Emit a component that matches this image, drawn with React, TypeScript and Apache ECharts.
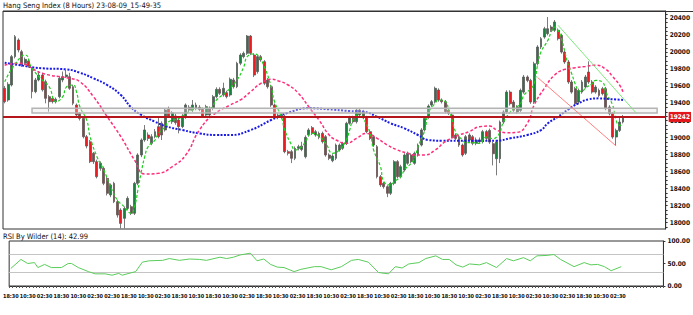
import React, { useEffect, useRef } from 'react';
import * as echarts from 'echarts';

const TITLE = 'Hang Seng Index (8 Hours) 23-08-09_15-49-35';
const RSI_TITLE = 'RSI By Wilder (14): 42.99';
const SLOTS = 194;

const xLabels = [
  '18:30', '10:30', '02:30', '18:30', '10:30', '02:30', '02:30', '18:30', '10:30', '02:30',
  '18:30', '10:30', '18:30', '10:30', '02:30', '18:30', '10:30', '02:30', '18:30', '10:30',
  '02:30', '18:30', '10:30', '02:30', '18:30', '10:30', '18:30', '10:30', '02:30', '18:30',
  '10:30', '02:30', '10:30', '02:30', '18:30', '10:30', '02:30',
];

// [open, close, low, high]
const candles: number[][] = [
  [19578, 19421, 19402, 19605], [19441, 19625, 19420, 19650], [19617, 19950, 19600, 19970], [19950, 20185, 19930, 20204],
  [20145, 20028, 20000, 20165], [20008, 19852, 19830, 20030], [19872, 19918, 19850, 19940], [19900, 19840, 19820, 19925],
  [19813, 19539, 19460, 19830], [19539, 19676, 19520, 19700], [19676, 19734, 19660, 19780], [19734, 19560, 19540, 19760],
  [19656, 19460, 19402, 19680], [19480, 19421, 19304, 19500], [19460, 19421, 19400, 19480], [19421, 19450, 19400, 19470],
  [19480, 19695, 19460, 19720], [19676, 19715, 19650, 19775], [19715, 19734, 19700, 19793], [19715, 19578, 19560, 19760],
  [19597, 19402, 19380, 19620], [19382, 19265, 19240, 19400], [19285, 19225, 19200, 19300], [19225, 19010, 18990, 19245],
  [19010, 18900, 18873, 19030], [18950, 18717, 18700, 18971], [18815, 18717, 18690, 18830], [18717, 18540, 18520, 18740],
  [18638, 18697, 18610, 18720], [18638, 18462, 18440, 18660], [18521, 18345, 18320, 18540], [18326, 18443, 18300, 18460],
  [18462, 18247, 18230, 18480], [18247, 18090, 18060, 18270], [18149, 17992, 17934, 18170], [18051, 18168, 17934, 18190],
  [18168, 18286, 18150, 18310], [18188, 18110, 18090, 18210], [18110, 18462, 18090, 18480], [18462, 18795, 18440, 18815],
  [18795, 18971, 18770, 18990], [18971, 19089, 18950, 19147], [19030, 18990, 18960, 19060], [18932, 19010, 18910, 19040],
  [19010, 19069, 18990, 19100], [19128, 19010, 18990, 19245], [19167, 19030, 18971, 19190], [19089, 19323, 19070, 19345],
  [19331, 19253, 19230, 19363], [19186, 19290, 19160, 19310], [19253, 19175, 19150, 19280], [19206, 19128, 19049, 19230],
  [19128, 19253, 19110, 19275], [19237, 19382, 19220, 19400], [19355, 19323, 19300, 19380], [19323, 19382, 19300, 19441],
  [19343, 19382, 19320, 19410], [19355, 19330, 19310, 19380], [19331, 19253, 19230, 19350], [19265, 19363, 19245, 19385],
  [19343, 19265, 19240, 19365], [19343, 19480, 19320, 19500], [19480, 19566, 19460, 19590], [19566, 19519, 19500, 19590],
  [19500, 19578, 19480, 19644], [19527, 19480, 19460, 19550], [19500, 19684, 19480, 19705], [19676, 19597, 19575, 19700],
  [19597, 19872, 19580, 19890], [19872, 19969, 19850, 19990], [19950, 19989, 19930, 20010], [19989, 20192, 19970, 20204],
  [20192, 19989, 19970, 20204], [19969, 19734, 19710, 19990], [19774, 19950, 19750, 19970], [19950, 19911, 19890, 19970],
  [19891, 19637, 19615, 19910], [19676, 19597, 19575, 19700], [19597, 19382, 19360, 19620], [19382, 19237, 19215, 19400],
  [19265, 19237, 19215, 19285], [19237, 19265, 19215, 19285], [19250, 18834, 18815, 19265], [18834, 18815, 18790, 18855],
  [18834, 18756, 18700, 18855], [18756, 18873, 18735, 18895], [18873, 18893, 18850, 18915], [18860, 18900, 18840, 18950],
  [18775, 19002, 18755, 19025], [19030, 19089, 19010, 19110], [19116, 19049, 19030, 19135], [19030, 19069, 19010, 19090],
  [19049, 19002, 18980, 19070], [19049, 18951, 18930, 19070], [19010, 18795, 18775, 19030], [18795, 18756, 18735, 18815],
  [18728, 18783, 18710, 18805], [18756, 18912, 18735, 18930], [18854, 18912, 18835, 18930], [18873, 18932, 18855, 18950],
  [18932, 19167, 18912, 19185], [19167, 19237, 19150, 19255], [19237, 19186, 19165, 19255], [19186, 19323, 19165, 19345],
  [19323, 19265, 19245, 19345], [19237, 19304, 19215, 19325], [19237, 19069, 19050, 19255], [19069, 18990, 18970, 19090],
  [19010, 18912, 18890, 19030], [18893, 18540, 18520, 18912], [18540, 18443, 18420, 18560], [18462, 18423, 18400, 18480],
  [18423, 18345, 18300, 18440], [18345, 18462, 18325, 18480], [18462, 18717, 18440, 18735], [18717, 18540, 18520, 18735],
  [18540, 18658, 18520, 18680], [18619, 18795, 18600, 18815], [18697, 18815, 18680, 18835], [18795, 18717, 18697, 18815],
  [18697, 18815, 18680, 18835], [18795, 18912, 18775, 18930], [18912, 19089, 18895, 19110], [19089, 19225, 19070, 19245],
  [19237, 19370, 19220, 19390], [19382, 19421, 19360, 19441], [19421, 19578, 19400, 19598], [19558, 19441, 19420, 19578],
  [19441, 19421, 19400, 19460], [19421, 19304, 19285, 19441], [19323, 19284, 19265, 19345], [19265, 19010, 18990, 19285],
  [19030, 18990, 18970, 19050], [19010, 18912, 18890, 19030], [18912, 18795, 18775, 18930], [18815, 19010, 18795, 19030],
  [19030, 18971, 18950, 19050], [19010, 18932, 18910, 19030], [18932, 18971, 18910, 19000], [18971, 18951, 18930, 19000],
  [18951, 19069, 18930, 19090], [19070, 18990, 18970, 19090], [19084, 18947, 18925, 19105], [18928, 18810, 18673, 18950],
  [18751, 18947, 18556, 18970], [18751, 19182, 18700, 19200], [19182, 19300, 19160, 19320], [19300, 19534, 19280, 19555],
  [19534, 19397, 19375, 19555], [19417, 19320, 19300, 19440], [19300, 19358, 19280, 19380], [19319, 19554, 19300, 19575],
  [19534, 19711, 19515, 19735], [19711, 19671, 19650, 19730], [19671, 19417, 19395, 19690], [19417, 19867, 19395, 19890],
  [19867, 20063, 19845, 20085], [20063, 20161, 20040, 20180], [20180, 20278, 20160, 20300], [20220, 20278, 20200, 20415],
  [20298, 20259, 20240, 20320], [20259, 20357, 20240, 20380], [20259, 20161, 20140, 20280], [20200, 20004, 19985, 20220],
  [20004, 19887, 19865, 20025], [19887, 19652, 19630, 19910], [19652, 19534, 19515, 19675], [19574, 19397, 19375, 19595],
  [19417, 19554, 19395, 19575], [19534, 19652, 19515, 19675], [19593, 19711, 19575, 19735], [19769, 19652, 19630, 19895],
  [19652, 19534, 19515, 19675], [19534, 19593, 19515, 19615], [19554, 19495, 19475, 19575], [19574, 19515, 19495, 19595],
  [19574, 19339, 19320, 19595], [19358, 19280, 19260, 19380], [19280, 19006, 18985, 19300], [19006, 19084, 18908, 19105],
  [19084, 19182, 19065, 19230], [19182, 19242, 19165, 19265],
];

// [bar index, value]
const maFast: number[][] = [
  [0, 19656], [3, 19860], [6, 19970], [8, 19813], [11, 19676], [13, 19598], [15, 19421], [17, 19480], [18, 19590],
  [20, 19617], [21, 19539], [22, 19363], [24, 19206], [25, 19010], [27, 18775], [29, 18619], [31, 18423], [33, 18266],
  [35, 18188], [37, 18110], [38, 18188], [39, 18384], [40, 18599], [41, 18775], [42, 18893], [44, 18971], [45, 19049],
  [47, 19128], [48, 19186], [51, 19225], [54, 19304], [57, 19343], [60, 19343], [62, 19441], [65, 19539], [68, 19676],
  [70, 19832], [71, 19950], [73, 19981], [74, 19969], [76, 19832], [78, 19597], [79, 19421], [81, 19245], [82, 19089],
  [84, 18912], [85, 18854], [87, 18893], [88, 18951], [90, 19049], [92, 19018], [94, 18932], [96, 18815], [98, 18854],
  [100, 18971], [101, 19089], [102, 19206], [104, 19284], [105, 19225], [107, 19049], [108, 18854], [110, 18658],
  [111, 18482], [113, 18443], [114, 18482], [116, 18540], [117, 18619], [119, 18697], [120, 18756], [121, 18893],
  [123, 19089], [124, 19284], [126, 19402], [127, 19441], [129, 19421], [130, 19323], [131, 19206], [132, 19069],
  [134, 18971], [135, 18940], [137, 18940], [139, 18932], [141, 19006], [143, 18986], [144, 19006], [145, 19065],
  [146, 19182], [148, 19300], [149, 19339], [151, 19397], [152, 19495], [154, 19574], [155, 19632], [156, 19848],
  [157, 20004], [159, 20141], [160, 20239], [161, 20298], [162, 20259], [163, 20161], [164, 20004], [165, 19848],
  [166, 19750], [167, 19632], [168, 19554], [169, 19542], [170, 19581], [172, 19632], [173, 19671], [175, 19652],
  [176, 19534], [178, 19378], [179, 19202], [180, 19143], [181, 19143],
];

const maMid: number[][] = [
  [0, 19850], [4, 19872], [11, 19754], [19, 19695], [22, 19656], [26, 19479], [30, 19245], [34, 19010], [38, 18736],
  [41, 18572], [45, 18580], [49, 18657], [53, 18795], [57, 19088], [61, 19265], [66, 19382], [69, 19441], [72, 19538],
  [75, 19637], [78, 19684], [80, 19667], [83, 19617], [86, 19519], [89, 19362], [92, 19206], [95, 19030], [97, 18971],
  [100, 18932], [103, 18991], [106, 19049], [109, 18991], [112, 18912], [115, 18853], [118, 18815], [120, 18795],
  [123, 18795], [126, 18853], [129, 18951], [133, 19030], [136, 19069], [139, 19127], [142, 19135], [144, 19088],
  [147, 19057], [150, 19061], [153, 19167], [155, 19382], [158, 19578], [161, 19734], [164, 19801], [167, 19820],
  [170, 19835], [173, 19850], [176, 19801], [178, 19715], [180, 19617], [181, 19538],
];

const maSlow: number[][] = [
  [0, 19879], [4, 19852], [11, 19813], [18, 19801], [22, 19761], [26, 19695], [30, 19617], [34, 19499], [37, 19355],
  [40, 19265], [44, 19186], [47, 19135], [52, 19088], [57, 19049], [62, 19030], [66, 19030], [72, 19088], [78, 19206],
  [83, 19292], [89, 19343], [95, 19331], [101, 19311], [105, 19303], [109, 19245], [113, 19167], [117, 19108],
  [121, 19030], [124, 18971], [128, 18963], [133, 18963], [139, 18963], [144, 18963], [148, 18991], [153, 19030],
  [157, 19088], [159, 19167], [162, 19245], [165, 19331], [168, 19402], [171, 19449], [174, 19460], [177, 19452],
  [181, 19441],
];

const rsi: number[][] = [
  [0, 39], [3, 59], [5, 50], [7, 52], [8, 41], [10, 48], [12, 41], [15, 41], [17, 50], [18, 50], [20, 41], [23, 32],
  [25, 27], [28, 27], [30, 24], [32, 28], [33, 24], [35, 28], [37, 32], [39, 53], [41, 56], [45, 57], [47, 61], [50, 57],
  [53, 60], [56, 59], [58, 57], [62, 64], [64, 61], [66, 64], [68, 69], [71, 73], [73, 56], [75, 60], [77, 48], [79, 42],
  [81, 41], [84, 32], [86, 37], [90, 43], [92, 43], [95, 36], [98, 43], [101, 57], [103, 59], [106, 53], [109, 30],
  [112, 27], [114, 43], [116, 40], [118, 49], [121, 52], [123, 61], [126, 67], [128, 59], [130, 59], [132, 47],
  [134, 42], [136, 49], [139, 47], [141, 52], [144, 41], [147, 61], [149, 56], [152, 63], [154, 56], [156, 67],
  [159, 68], [161, 70], [163, 59], [167, 43], [170, 52], [172, 47], [174, 48], [176, 43], [178, 34], [181, 43],
];

const priceTicks = [18000, 18200, 18400, 18600, 18800, 19000, 19200, 19400, 19600, 19800, 20000, 20200, 20400];
const lastPrice = 19242;
const zone = { fromBar: 8, toBar: 191, low: 19287, high: 19345 };
const trendGreen: number[][] = [[162, 20318], [185, 19282]];
const trendRed: number[][] = [[156, 19705], [179, 18900]];
const rsiLevels = [30, 70];

const FONT = "'Liberation Sans Narrow', 'DejaVu Sans Condensed', 'Arial Narrow', 'Liberation Sans', sans-serif";

export default function App() {
  const ref = useRef<HTMLDivElement>(null);
  useEffect(() => {
    if (!ref.current) return;
    const chart = echarts.init(ref.current, undefined, { renderer: 'svg' });
    const cats = Array.from({ length: SLOTS }, (_, i) => String(i));
    const minorTicks: number[] = [];
    for (let v = 17950; v <= 20450; v += 50) minorTicks.push(v);

    const option: any = {
      animation: false,
      backgroundColor: '#ffffff',
      graphic: [
        { type: 'text', left: 3, top: 1, style: { text: TITLE, fontSize: 7.5, fontFamily: FONT, fill: '#111' } },
        { type: 'line', shape: { x1: 3, y1: 11.5, x2: 693, y2: 11.5 }, style: { stroke: '#333', lineWidth: 1 } },
        { type: 'text', left: 3, top: 232, style: { text: RSI_TITLE, fontSize: 7.5, fontFamily: FONT, fill: '#111' } },
      ],
      grid: [
        { left: 3, top: 11, width: 664, height: 218, show: true, borderColor: '#333', borderWidth: 1, backgroundColor: '#fff' },
        { left: 3, top: 241, width: 664, height: 45, show: true, borderColor: '#333', borderWidth: 1, backgroundColor: '#fff' },
      ],
      xAxis: [
        {
          type: 'category', gridIndex: 0, data: cats, boundaryGap: true,
          axisLine: { show: false }, axisTick: { show: false }, axisLabel: { show: false }, splitLine: { show: false },
        },
        {
          type: 'category', gridIndex: 1, data: cats, boundaryGap: true,
          axisLine: { show: true, lineStyle: { color: '#333' } },
          axisTick: { show: true, interval: 0, length: 2, lineStyle: { color: '#555' } },
          axisLabel: {
            interval: 4, showMinLabel: true, margin: 7, fontSize: 5.5, fontWeight: 'bold', fontFamily: FONT, color: '#111',
            formatter: (_v: string, idx: number) => xLabels[idx / 5] ?? '',
          },
          splitLine: { show: false },
        },
      ],
      yAxis: [
        {
          type: 'value', gridIndex: 0, position: 'right', min: 17926, max: 20486,
          axisLine: { show: true, lineStyle: { color: '#333' } },
          axisTick: { show: true, customValues: minorTicks, length: 2, lineStyle: { color: '#333' } },
          axisLabel: {
            customValues: priceTicks, margin: 4, fontSize: 6.5, fontWeight: 'bold', fontFamily: FONT, color: '#111',
            formatter: (v: number) => String(v),
          },
          splitLine: { show: false },
        },
        {
          type: 'value', gridIndex: 1, position: 'right', min: 0, max: 100, interval: 50,
          axisLine: { show: true, lineStyle: { color: '#333' } },
          axisTick: { show: true, length: 2, lineStyle: { color: '#333' } },
          axisLabel: {
            margin: 4, fontSize: 6.5, fontWeight: 'bold', fontFamily: FONT, color: '#111',
            formatter: (v: number) => v.toFixed(2),
          },
          splitLine: { show: false },
        },
      ],
      series: [
        {
          type: 'candlestick', xAxisIndex: 0, yAxisIndex: 0, data: candles, barWidth: 2.4, z: 2,
          itemStyle: { color: '#1b7f3e', color0: '#ea1c22', borderColor: '#5a5a5a', borderColor0: '#5a5a5a', borderWidth: 0.8 },
          markArea: {
            silent: true, z: 4,
            itemStyle: { color: 'rgba(225,225,225,0.35)', borderColor: '#b4b4b4', borderWidth: 1.5 },
            data: [[{ xAxis: zone.fromBar, yAxis: zone.low }, { xAxis: zone.toBar, yAxis: zone.high }]],
          },
          markLine: {
            silent: true, symbol: 'none', z: 6,
            lineStyle: { color: '#b5161c', width: 2, type: 'solid' },
            label: {
              show: true, position: 'end', distance: 3, formatter: String(lastPrice), color: '#fff',
              backgroundColor: '#e3161b', fontSize: 6.5, fontWeight: 'bold', fontFamily: FONT, padding: [2, 1, 1, 1],
            },
            data: [{ yAxis: lastPrice }],
          },
        },
        {
          type: 'line', xAxisIndex: 0, yAxisIndex: 0, data: maSlow, smooth: true, showSymbol: false, z: 3,
          lineStyle: { color: '#1a1ae8', width: 2, type: [2, 1.5] },
        },
        {
          type: 'line', xAxisIndex: 0, yAxisIndex: 0, data: maMid, smooth: true, showSymbol: false, z: 3,
          lineStyle: { color: '#ff2d7a', width: 1.5, type: [3, 2] },
        },
        {
          type: 'line', xAxisIndex: 0, yAxisIndex: 0, data: maFast, smooth: true, showSymbol: false, z: 3,
          lineStyle: { color: '#1ed01e', width: 1.2, type: [3, 2] },
        },
        {
          type: 'line', xAxisIndex: 0, yAxisIndex: 0, data: trendGreen, showSymbol: false, z: 5,
          lineStyle: { color: '#7ee87e', width: 1 },
        },
        {
          type: 'line', xAxisIndex: 0, yAxisIndex: 0, data: trendRed, showSymbol: false, z: 5,
          lineStyle: { color: '#ff8080', width: 1 },
        },
        {
          type: 'line', xAxisIndex: 1, yAxisIndex: 1, data: rsi, showSymbol: false, z: 3,
          lineStyle: { color: '#5acd5a', width: 1 },
          markLine: {
            silent: true, symbol: 'none', z: 2, label: { show: false },
            lineStyle: { color: '#c4c4c4', width: 1, type: 'solid' },
            data: rsiLevels.map((v) => ({ yAxis: v })),
          },
        },
      ],
    };
    chart.setOption(option);
    return () => chart.dispose();
  }, []);
  return <div ref={ref} style={{ position: 'fixed', left: 0, top: 0, width: 693, height: 315 }} />;
}
